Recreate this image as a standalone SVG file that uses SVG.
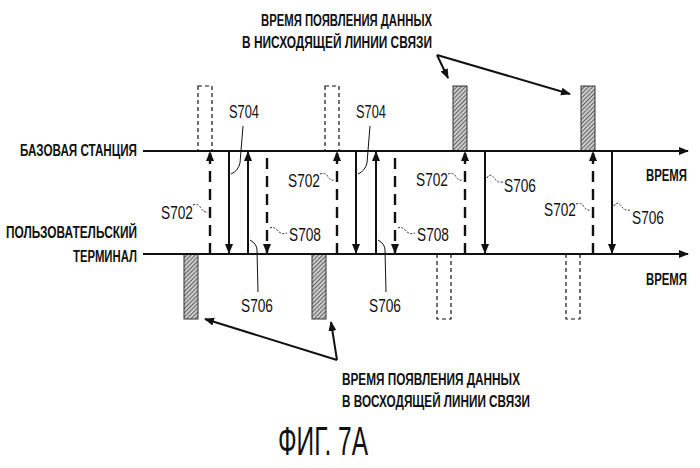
<svg xmlns="http://www.w3.org/2000/svg" width="700" height="468" viewBox="0 0 700 468">
<style>
text{font-family:"Liberation Sans",Arial,sans-serif;font-size:18px;fill:#111}
.b{font-weight:bold;font-size:16px}
.ax{stroke:#111;stroke-width:2;fill:none}
.s{stroke:#111;stroke-width:2;fill:none}
.d{stroke:#111;stroke-width:2.4;fill:none;stroke-dasharray:11,7}
.db{stroke:#111;stroke-width:1.2;fill:#fff;stroke-dasharray:4,3}
.h{stroke:#333;stroke-width:1;fill:url(#hat)}
.w{stroke:#111;stroke-width:0.9;fill:none;stroke-dasharray:2,1.5}
.p{stroke:#111;stroke-width:1;fill:none}
</style>
<defs>
<pattern id="hat" width="3" height="3" patternUnits="userSpaceOnUse" patternTransform="rotate(45)"><rect width="3" height="3" fill="#ccc"/><line x1="0" y1="0" x2="0" y2="3" stroke="#333" stroke-width="1.4"/></pattern>
<marker id="a" markerWidth="10" markerHeight="10" refX="9" refY="5" orient="auto" markerUnits="userSpaceOnUse"><path d="M0,1 L10,5 L0,9 Z" fill="#111"/></marker>
</defs>
<g id="boxes">
<rect class="db" x="198" y="86" width="14" height="65"/>
<rect class="db" x="325" y="86" width="14" height="65"/>
<rect class="h" x="453" y="86" width="14" height="65"/>
<rect class="h" x="581" y="86" width="14" height="65"/>
<rect class="h" x="184" y="254" width="14" height="65"/>
<rect class="h" x="312" y="254" width="14" height="65"/>
<rect class="db" x="437" y="254" width="14" height="65"/>
<rect class="db" x="566" y="254" width="14" height="65"/>
</g>
<g id="connectors">
<line class="ax" x1="143" y1="151" x2="688" y2="151" marker-end="url(#a)"/>
<line class="ax" x1="143" y1="254" x2="688" y2="254" marker-end="url(#a)"/>
<line class="d" x1="210" y1="254" x2="210" y2="152" marker-end="url(#a)"/>
<line class="s" x1="229" y1="151" x2="229" y2="253" marker-end="url(#a)"/>
<line class="s" x1="248" y1="254" x2="248" y2="152" marker-end="url(#a)"/>
<line class="d" x1="267" y1="158" x2="267" y2="253" marker-end="url(#a)"/>
<line class="d" x1="337" y1="254" x2="337" y2="152" marker-end="url(#a)"/>
<line class="s" x1="356" y1="151" x2="356" y2="253" marker-end="url(#a)"/>
<line class="s" x1="376" y1="254" x2="376" y2="152" marker-end="url(#a)"/>
<line class="d" x1="395" y1="158" x2="395" y2="253" marker-end="url(#a)"/>
<line class="d" x1="465" y1="254" x2="465" y2="152" marker-end="url(#a)"/>
<line class="s" x1="485" y1="151" x2="485" y2="253" marker-end="url(#a)"/>
<line class="d" x1="593" y1="254" x2="593" y2="152" marker-end="url(#a)"/>
<line class="s" x1="612" y1="151" x2="612" y2="253" marker-end="url(#a)"/>
<path class="w" d="M193,205 Q198,203 201,208 Q204,213 208,212"/>
<path class="w" d="M320,174 Q326,172 328,177 Q331,181 335,180"/>
<path class="w" d="M448,174 Q454,172 456,177 Q459,181 463,180"/>
<path class="w" d="M576,204 Q582,202 584,207 Q587,211 591,210"/>
<path class="w" d="M270,228 Q274,226 278,231 Q282,235 287,233"/>
<path class="w" d="M398,228 Q402,226 406,231 Q410,235 415,233"/>
<path class="w" d="M487,178 Q490,172 495,179 Q498,183 503,182"/>
<path class="w" d="M614,206 Q617,200 622,207 Q625,211 630,210"/>
<path class="p" d="M243,126 L240,163 Q238,171 231,174"/>
<path class="p" d="M370,126 L367,163 Q365,171 358,174"/>
<path class="p" d="M250,240 Q257,244 257,250 L258,292"/>
<path class="p" d="M378,240 Q385,244 385,250 L386,292"/>
<line class="s" x1="437" y1="55" x2="448" y2="78" marker-end="url(#a)"/>
<line class="s" x1="437" y1="55" x2="570" y2="94" marker-end="url(#a)"/>
<line class="s" x1="337" y1="360" x2="205" y2="319" marker-end="url(#a)"/>
<line class="s" x1="337" y1="360" x2="331" y2="322" marker-end="url(#a)"/>
</g>
<g id="labels">
<text class="b" x="261" y="26" textLength="171" lengthAdjust="spacingAndGlyphs">ВРЕМЯ ПОЯВЛЕНИЯ ДАННЫХ</text>
<text class="b" x="242" y="48" textLength="190" lengthAdjust="spacingAndGlyphs">В НИСХОДЯЩЕЙ ЛИНИИ СВЯЗИ</text>
<text class="b" x="342" y="385" textLength="178" lengthAdjust="spacingAndGlyphs">ВРЕМЯ ПОЯВЛЕНИЯ ДАННЫХ</text>
<text class="b" x="342" y="407" textLength="188" lengthAdjust="spacingAndGlyphs">В ВОСХОДЯЩЕЙ ЛИНИИ СВЯЗИ</text>
<text class="b" x="20" y="156" textLength="117" lengthAdjust="spacingAndGlyphs">БАЗОВАЯ СТАНЦИЯ</text>
<text class="b" x="6" y="238" textLength="131" lengthAdjust="spacingAndGlyphs">ПОЛЬЗОВАТЕЛЬСКИЙ</text>
<text class="b" x="73" y="262" textLength="64" lengthAdjust="spacingAndGlyphs">ТЕРМИНАЛ</text>
<text class="b" x="646" y="181" textLength="41" lengthAdjust="spacingAndGlyphs">ВРЕМЯ</text>
<text class="b" x="646" y="285" textLength="41" lengthAdjust="spacingAndGlyphs">ВРЕМЯ</text>
<text x="161" y="219" textLength="32" lengthAdjust="spacingAndGlyphs">S702</text>
<text x="288" y="187" textLength="32" lengthAdjust="spacingAndGlyphs">S702</text>
<text x="416" y="186" textLength="32" lengthAdjust="spacingAndGlyphs">S702</text>
<text x="544" y="216" textLength="32" lengthAdjust="spacingAndGlyphs">S702</text>
<text x="229" y="118" textLength="30" lengthAdjust="spacingAndGlyphs">S704</text>
<text x="356" y="118" textLength="30" lengthAdjust="spacingAndGlyphs">S704</text>
<text x="241" y="312" textLength="32" lengthAdjust="spacingAndGlyphs">S706</text>
<text x="369" y="312" textLength="32" lengthAdjust="spacingAndGlyphs">S706</text>
<text x="504" y="192" textLength="32" lengthAdjust="spacingAndGlyphs">S706</text>
<text x="632" y="224" textLength="32" lengthAdjust="spacingAndGlyphs">S706</text>
<text x="289" y="241" textLength="32" lengthAdjust="spacingAndGlyphs">S708</text>
<text x="417" y="241" textLength="32" lengthAdjust="spacingAndGlyphs">S708</text>
<text x="278" y="455" style="font-size:40px" textLength="90" lengthAdjust="spacingAndGlyphs">ФИГ. 7A</text>
</g>
</svg>
